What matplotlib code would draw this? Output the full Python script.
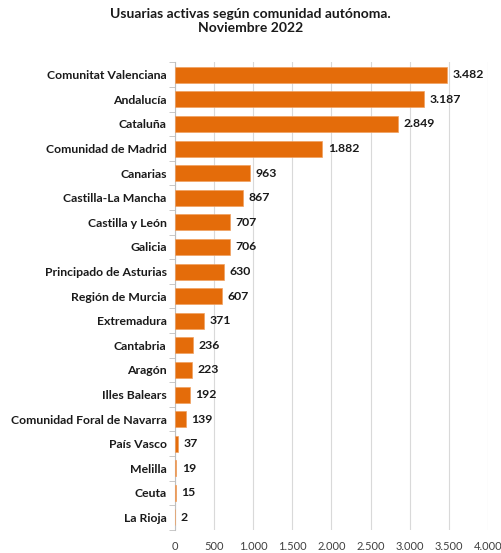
import matplotlib.pyplot as plt
import matplotlib.ticker as ticker
import numpy as np

plt.rcParams['font.family'] = ['Lato', 'DejaVu Sans']

# datos
comunidades = ['Comunitat Valenciana', 'Andalucía', 'Cataluña', 'Comunidad de Madrid',
               'Canarias', 'Castilla-La Mancha', 'Castilla y León', 'Galicia',
               'Principado de Asturias', 'Región de Murcia', 'Extremadura', 'Cantabria',
               'Aragón', 'Illes Balears', 'Comunidad Foral de Navarra', 'País Vasco',
               'Melilla', 'Ceuta', 'La Rioja']
usuarias = [3482, 3187, 2849, 1882, 963, 867, 707, 706, 630, 607, 371, 236,
            223, 192, 139, 37, 19, 15, 2]

fig = plt.figure(figsize=(5.01, 5.53), dpi=100)
ax = fig.add_axes([0.349, 0.042, 0.625, 0.845])

y = np.arange(len(comunidades))
ax.barh(y, usuarias, height=0.65, color='#E46C0A', edgecolor='#F0A060', linewidth=0.5, zorder=3)

ax.set_ylim(len(comunidades) - 0.5, -0.5)
ax.set_xlim(0, 4000)
ax.set_yticks(y)
ax.set_yticklabels(comunidades, fontsize=8.8, fontweight='bold', color='#1a1a1a')
ax.tick_params(axis='y', which='major', length=0, pad=6)
ax.yaxis.set_minor_locator(ticker.FixedLocator(np.arange(-0.5, len(comunidades), 1)))
ax.tick_params(axis='y', which='minor', length=4, color='#bfbfbf')

ax.xaxis.set_major_locator(ticker.MultipleLocator(500))
ax.xaxis.set_major_formatter(ticker.FuncFormatter(lambda v, p: f'{v:,.0f}'.replace(',', '.')))
ax.tick_params(axis='x', length=0, labelsize=8, labelcolor='#404040', pad=8)
ax.grid(axis='x', color='#d9d9d9', linewidth=0.8, zorder=0)

for s in ['top', 'right', 'bottom']:
    ax.spines[s].set_visible(False)
ax.spines['left'].set_color('#bfbfbf')

for yi, v in zip(y, usuarias):
    ax.text(v + 70, yi, f'{v:,}'.replace(',', '.'), va='center', ha='left',
            fontsize=8.8, fontweight='bold', color='#1a1a1a', zorder=4)

fig.suptitle('Usuarias activas según comunidad autónoma.\nNoviembre 2022',
             fontsize=10, fontweight='bold', color='#1a1a1a', y=0.985)

fig.savefig('out.png', dpi=100)
